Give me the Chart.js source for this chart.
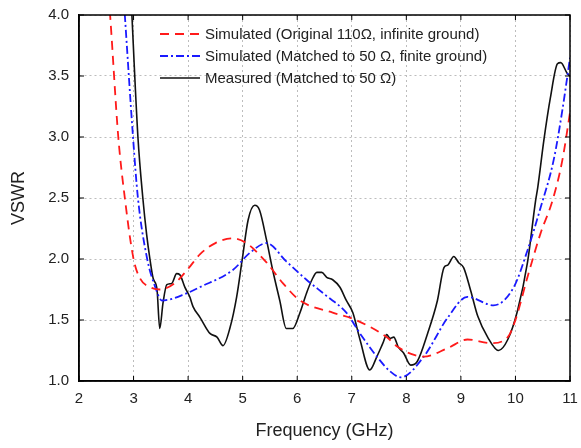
<!DOCTYPE html>
<html>
<head>
<meta charset="utf-8">
<script src="https://cdn.jsdelivr.net/npm/chart.js@4/dist/chart.umd.min.js"></script>
<style>
  body { margin: 0; background: #fff; }
</style>
</head>
<body>
<canvas id="vswrChart" width="581" height="448"></canvas>
<script>
// Подписи серий
const labels = [
  "Simulated (Original 110\u03A9, infinite ground)",
  "Simulated (Matched to 50 \u03A9, finite ground)",
  "Measured (Matched to 50 \u03A9)",
];

// Simulated, original 110 Ом
const simOrigX = [2.5, 2.57, 2.72, 2.84, 3.0, 3.12, 3.3, 3.48, 3.75, 4.0, 4.22, 4.5, 4.82, 5.07, 5.44, 5.74, 6.05, 6.65, 7.02, 7.64, 7.84, 8.1, 8.32, 8.76, 9.12, 9.55, 9.86, 10.0, 10.22, 10.46, 10.68, 10.86, 11.0];
const simOrigY = [4.4, 4.0, 3.0, 2.5, 2.0, 1.84, 1.77, 1.75, 1.8, 1.92, 2.04, 2.13, 2.17, 2.13, 1.97, 1.8, 1.66, 1.56, 1.51, 1.36, 1.28, 1.22, 1.2, 1.27, 1.34, 1.31, 1.36, 1.5, 1.85, 2.21, 2.48, 2.81, 3.2];

// Simulated, matched to 50 Ом
const simMatchX = [2.78, 2.84, 2.99, 3.08, 3.25, 3.39, 3.52, 3.98, 4.22, 4.82, 5.13, 5.44, 5.8, 6.17, 6.53, 6.9, 7.15, 7.46, 7.7, 7.9, 8.32, 8.76, 9.12, 9.6, 9.97, 10.22, 10.46, 10.7, 10.86, 11.0];
const simMatchY = [4.4, 4.0, 3.0, 2.5, 2.0, 1.78, 1.66, 1.72, 1.77, 1.91, 2.05, 2.13, 1.98, 1.83, 1.7, 1.56, 1.39, 1.2, 1.08, 1.03, 1.2, 1.52, 1.69, 1.62, 1.77, 2.07, 2.42, 2.81, 3.22, 3.65];

// Measured
const measX = [2.93, 2.97, 3.08, 3.17, 3.24, 3.3, 3.36, 3.43, 3.48, 3.54, 3.61, 3.7, 3.79, 3.85, 3.94, 4.03, 4.09, 4.22, 4.4, 4.53, 4.64, 4.77, 4.89, 4.99, 5.1, 5.22, 5.31, 5.44, 5.55, 5.68, 5.8, 5.92, 6.05, 6.17, 6.27, 6.36, 6.45, 6.54, 6.65, 6.78, 6.9, 7.02, 7.15, 7.33, 7.46, 7.57, 7.64, 7.7, 7.77, 7.85, 7.95, 8.08, 8.2, 8.39, 8.57, 8.69, 8.76, 8.87, 8.96, 9.05, 9.18, 9.31, 9.49, 9.69, 9.86, 10.04, 10.22, 10.37, 10.41, 10.52, 10.64, 10.77, 10.83, 10.95, 11.0];
const measY = [4.4, 4.0, 3.0, 2.5, 2.2, 2.0, 1.84, 1.75, 1.43, 1.64, 1.79, 1.8, 1.88, 1.87, 1.77, 1.69, 1.61, 1.52, 1.39, 1.36, 1.29, 1.44, 1.69, 1.99, 2.32, 2.44, 2.4, 2.15, 1.91, 1.66, 1.43, 1.43, 1.56, 1.72, 1.83, 1.89, 1.89, 1.85, 1.83, 1.77, 1.66, 1.56, 1.34, 1.09, 1.2, 1.31, 1.38, 1.35, 1.36, 1.28, 1.23, 1.13, 1.16, 1.39, 1.66, 1.93, 1.95, 2.02, 1.97, 1.93, 1.74, 1.53, 1.36, 1.25, 1.34, 1.58, 1.97, 2.48, 2.59, 2.97, 3.32, 3.6, 3.61, 3.52, 3.5];

// Оси
const xTicks = [2, 3, 4, 5, 6, 7, 8, 9, 10, 11];
const yTicks = [1.0, 1.5, 2.0, 2.5, 3.0, 3.5, 4.0];

const FONT = "'Liberation Sans', Arial, sans-serif";

function toPoints(xs, ys) {
  return xs.map((x, i) => ({ x: x, y: ys[i] }));
}

// Рамка, внутренние засечки и легенда внутри графика
const framePlugin = {
  id: "frame",
  afterDatasetsDraw(chart) {
    const { ctx, chartArea: a, scales } = chart;
    ctx.save();
    ctx.strokeStyle = "#000";
    ctx.lineWidth = 1.5;
    ctx.setLineDash([]);
    ctx.strokeRect(a.left, a.top, a.right - a.left, a.bottom - a.top);

    // засечки внутрь
    ctx.lineWidth = 1;
    ctx.beginPath();
    xTicks.forEach((v) => {
      const px = scales.x.getPixelForValue(v);
      ctx.moveTo(px, a.bottom);
      ctx.lineTo(px, a.bottom - 5);
      ctx.moveTo(px, a.top);
      ctx.lineTo(px, a.top + 5);
    });
    yTicks.forEach((v) => {
      const py = scales.y.getPixelForValue(v);
      ctx.moveTo(a.left, py);
      ctx.lineTo(a.left + 5, py);
      ctx.moveTo(a.right, py);
      ctx.lineTo(a.right - 5, py);
    });
    ctx.stroke();

    // легенда
    const lx = a.left + 81;
    let ly = a.top + 19;
    ctx.font = "15px " + FONT;
    ctx.textBaseline = "middle";
    chart.data.datasets.forEach((ds) => {
      ctx.strokeStyle = ds.borderColor;
      ctx.lineWidth = ds.borderWidth;
      ctx.setLineDash(ds.borderDash || []);
      ctx.beginPath();
      ctx.moveTo(lx, ly);
      ctx.lineTo(lx + 40, ly);
      ctx.stroke();
      ctx.setLineDash([]);
      ctx.fillStyle = "#222";
      ctx.fillText(ds.label, lx + 45, ly + 1);
      ly += 22;
    });
    ctx.restore();
  },
};

new Chart(document.getElementById("vswrChart"), {
  type: "line",
  data: {
    datasets: [
      {
        label: labels[0],
        data: toPoints(simOrigX, simOrigY),
        borderColor: "#ff1a1a",
        borderWidth: 1.8,
        borderDash: [9, 6],
      },
      {
        label: labels[1],
        data: toPoints(simMatchX, simMatchY),
        borderColor: "#1a1aff",
        borderWidth: 1.8,
        borderDash: [8, 3, 2, 3],
      },
      {
        label: labels[2],
        data: toPoints(measX, measY),
        borderColor: "#111",
        borderWidth: 1.6,
      },
    ],
  },
  options: {
    responsive: false,
    animation: false,
    layout: { padding: { top: 15, right: 11, left: 0, bottom: 0 } },
    elements: {
      point: { radius: 0 },
      line: { cubicInterpolationMode: "monotone", fill: false },
    },
    plugins: {
      legend: { display: false },
      tooltip: { enabled: false },
    },
    scales: {
      x: {
        type: "linear",
        min: 2,
        max: 11,
        afterBuildTicks: (s) => { s.ticks = xTicks.map((v) => ({ value: v })); },
        afterFit: (s) => {
          s.height = 67;
          s.paddingLeft = 0;
          s.paddingRight = 0;
        },
        grid: { color: "#bdbdbd", lineWidth: 1, drawTicks: false },
        border: { color: "#000", width: 1.5, dash: [2, 3] },
        ticks: { color: "#222", font: { family: FONT, size: 15 }, padding: 9 },
        title: {
          display: true,
          text: "Frequency (GHz)",
          color: "#222",
          font: { family: FONT, size: 18 },
          padding: { top: 4, bottom: 6 },
        },
      },
      y: {
        min: 1,
        max: 4,
        afterBuildTicks: (s) => { s.ticks = yTicks.map((v) => ({ value: v })); },
        afterFit: (s) => {
          s.width = 79;
          s.paddingTop = 0;
          s.paddingBottom = 0;
        },
        grid: { color: "#bdbdbd", lineWidth: 1, drawTicks: false },
        border: { color: "#000", width: 1.5, dash: [2, 3] },
        ticks: {
          color: "#222",
          font: { family: FONT, size: 15 },
          padding: 10,
          callback: (v) => v.toFixed(1),
        },
        title: {
          display: true,
          text: "VSWR",
          color: "#222",
          font: { family: FONT, size: 18 },
          padding: { top: 8, bottom: 0 },
        },
      },
    },
  },
  plugins: [framePlugin],
});
</script>
</body>
</html>
